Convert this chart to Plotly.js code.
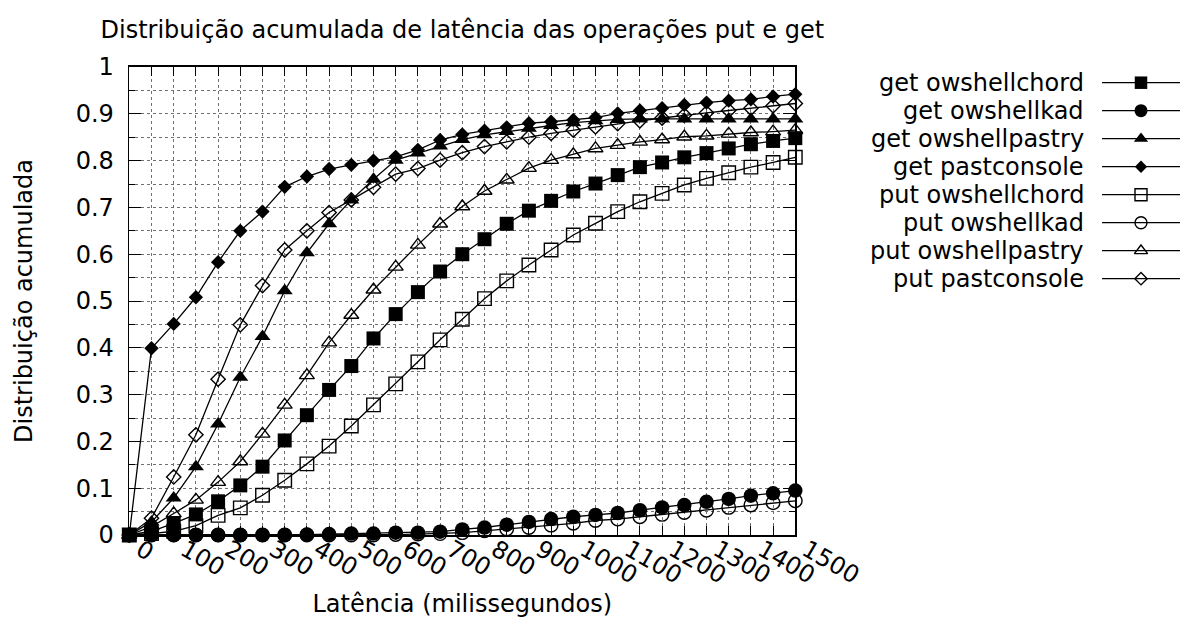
<!DOCTYPE html>
<html>
<head>
<meta charset="utf-8">
<script src="https://cdn.plot.ly/plotly-3.0.1.min.js"></script>
<style>
html,body{margin:0;padding:0;background:#fff;}
#chart{width:1185px;height:630px;}
</style>
</head>
<body>
<div id="chart"></div>
<script>
// ---- data ----
const latency = [0,50,100,150,200,250,300,350,400,450,500,550,600,650,700,750,800,850,900,950,1000,1050,1100,1150,1200,1250,1300,1350,1400,1450,1500];

const getOwshellchord   = [0,0.008,0.025,0.044,0.072,0.106,0.146,0.202,0.256,0.310,0.361,0.420,0.472,0.519,0.563,0.600,0.632,0.665,0.693,0.714,0.734,0.751,0.769,0.786,0.796,0.807,0.816,0.826,0.835,0.842,0.848];
const getOwshellkad     = [0,0,0,0,0,0,0,0,0.001,0.002,0.003,0.003,0.005,0.005,0.007,0.012,0.016,0.022,0.028,0.034,0.039,0.043,0.047,0.053,0.059,0.064,0.071,0.077,0.084,0.089,0.095];
const getOwshellpastry  = [0,0.028,0.079,0.146,0.237,0.337,0.424,0.522,0.603,0.665,0.716,0.760,0.801,0.816,0.831,0.845,0.855,0.862,0.869,0.875,0.881,0.885,0.888,0.889,0.889,0.889,0.889,0.889,0.889,0.889,0.889];
const getPastconsole    = [0,0.399,0.451,0.508,0.583,0.650,0.691,0.744,0.766,0.782,0.791,0.800,0.808,0.823,0.844,0.856,0.864,0.871,0.880,0.883,0.887,0.892,0.901,0.907,0.912,0.919,0.924,0.928,0.931,0.937,0.942];
const putOwshellchord   = [0,0.003,0.008,0.020,0.042,0.058,0.085,0.117,0.152,0.190,0.233,0.278,0.323,0.370,0.417,0.461,0.505,0.543,0.577,0.609,0.641,0.666,0.691,0.712,0.730,0.748,0.762,0.774,0.786,0.796,0.807];
const putOwshellkad     = [0,0,0,0,0,0,0,0,0,0,0,0,0.001,0.002,0.003,0.005,0.009,0.013,0.016,0.021,0.025,0.031,0.034,0.039,0.044,0.048,0.053,0.059,0.064,0.069,0.073];
const putOwshellpastry  = [0,0.018,0.046,0.075,0.113,0.157,0.216,0.278,0.341,0.411,0.470,0.524,0.573,0.620,0.665,0.702,0.735,0.759,0.784,0.801,0.813,0.826,0.833,0.840,0.845,0.851,0.853,0.857,0.860,0.862,0.865];
const putPastconsole    = [0,0.036,0.124,0.214,0.333,0.449,0.533,0.609,0.650,0.689,0.716,0.743,0.771,0.783,0.801,0.817,0.830,0.840,0.850,0.858,0.865,0.872,0.879,0.885,0.891,0.897,0.902,0.907,0.912,0.917,0.922];

const seriesNames = ['get owshellchord','get owshellkad','get owshellpastry','get pastconsole',
                     'put owshellchord','put owshellkad','put owshellpastry','put pastconsole'];

const xTickVals = [0,100,200,300,400,500,600,700,800,900,1000,1100,1200,1300,1400,1500];
const xTickText = ['0','100','200','300','400','500','600','700','800','900','1000','1100','1200','1300','1400','1500'];
const yTickVals = [0,0.1,0.2,0.3,0.4,0.5,0.6,0.7,0.8,0.9,1];
const yTickText = ['0','0.1','0.2','0.3','0.4','0.5','0.6','0.7','0.8','0.9','1'];

const titleText  = 'Distribuição acumulada de latência das operações put e get';
const xTitleText = 'Latência (milissegundos)';
const yTitleText = 'Distribuição acumulada';

// ---- styles ----
const FONT = 'DejaVu Sans, Verdana, sans-serif';
const FS = 24;
const W = 1185, H = 630;
const plotL = 129.3, plotR = 795.3, plotT = 67, plotB = 535;

const seriesValues = [getOwshellchord,getOwshellkad,getOwshellpastry,getPastconsole,
                      putOwshellchord,putOwshellkad,putOwshellpastry,putPastconsole];
const markerStyles = [
  {symbol:'square',           size:14,   lw:0},
  {symbol:'circle',           size:14.5, lw:0},
  {symbol:'triangle-up',      size:14,   lw:0},
  {symbol:'diamond',          size:11,   lw:0},
  {symbol:'square-open',      size:13.5, lw:1.4},
  {symbol:'circle-open',      size:13.5, lw:1.4},
  {symbol:'triangle-up-open', size:13,   lw:1.4},
  {symbol:'diamond-open',     size:11,   lw:1.4}
];

const traces = seriesValues.map((vals, i) => ({
  type: 'scatter',
  mode: 'lines+markers',
  name: seriesNames[i],
  x: latency,
  y: vals,
  xaxis: 'x', yaxis: 'y',
  cliponaxis: false,
  showlegend: false,
  line: {color: '#000', width: 1.3},
  marker: {symbol: markerStyles[i].symbol, size: markerStyles[i].size, color: '#000',
           line: {color: '#000', width: markerStyles[i].lw}}
}));

// custom gnuplot-style key: text on the left, sample on the right
const keyTraces = seriesNames.map((nm, i) => ({
  type: 'scatter',
  mode: 'lines+markers',
  name: nm,
  x: [0, 0.5, 1],
  y: [i, i, i],
  xaxis: 'x2', yaxis: 'y2',
  cliponaxis: false,
  showlegend: false,
  hoverinfo: 'skip',
  line: {color: '#000', width: 1.3},
  marker: {symbol: markerStyles[i].symbol, size: [0, markerStyles[i].size - 1.5, 0],
           opacity: [0, 1, 0], color: '#000',
           line: {color: '#000', width: markerStyles[i].lw}}
}));

const keyAnnotations = seriesNames.map((nm, i) => ({
  xref: 'x2', yref: 'y2', x: 0, y: i,
  xanchor: 'right', yanchor: 'middle', xshift: -16,
  text: nm, showarrow: false,
  font: {family: FONT, size: FS, color: '#000'}
}));

const gridCol = '#707070';
const layout = {
  width: W, height: H,
  margin: {l: 0, r: 0, t: 0, b: 0, pad: 0},
  paper_bgcolor: '#fff',
  plot_bgcolor: '#fff',
  font: {family: FONT, size: FS, color: '#000'},
  title: {
    text: titleText,
    xref: 'container', yref: 'container',
    x: 462.3 / W, xanchor: 'center',
    y: 1 - 30 / H, yanchor: 'middle',
    font: {family: FONT, size: FS, color: '#000'}
  },
  xaxis: {
    domain: [plotL / W, plotR / W],
    anchor: 'y',
    range: [0, 1500],
    tickmode: 'array', tickvals: xTickVals, ticktext: xTickText,
    tickangle: 30,
    ticklabelshift: 11,
    ticklabelstandoff: -10,
    ticks: 'inside', ticklen: 9, tickwidth: 1, tickcolor: '#000',
    showline: true, linecolor: '#000', linewidth: 1.6, mirror: 'ticks',
    showgrid: true, gridcolor: gridCol, gridwidth: 1, griddash: 'dot',
    zeroline: false,
    minor: {tickmode: 'linear', tick0: 0, dtick: 50, ticks: 'inside', ticklen: 9, tickwidth: 1, tickcolor: '#000',
            showgrid: true, gridcolor: gridCol, gridwidth: 1, griddash: 'dot'},
    tickfont: {family: FONT, size: FS, color: '#000'},
    title: {text: xTitleText, standoff: 0, font: {family: FONT, size: FS, color: '#000'}},
    fixedrange: true
  },
  yaxis: {
    domain: [(H - plotB) / H, (H - plotT) / H],
    anchor: 'x',
    range: [0, 1],
    tickmode: 'array', tickvals: yTickVals, ticktext: yTickText,
    ticks: 'inside', ticklen: 12, tickwidth: 1, tickcolor: '#000',
    ticklabelstandoff: 9,
    showline: true, linecolor: '#000', linewidth: 1.6, mirror: 'ticks',
    showgrid: true, gridcolor: gridCol, gridwidth: 1, griddash: 'dot',
    zeroline: false,
    minor: {tickmode: 'linear', tick0: 0, dtick: 0.05, ticks: 'inside', ticklen: 6, tickwidth: 1, tickcolor: '#000',
            showgrid: true, gridcolor: gridCol, gridwidth: 1, griddash: 'dot'},
    tickfont: {family: FONT, size: FS, color: '#000'},
    title: {text: yTitleText, standoff: 36, font: {family: FONT, size: FS, color: '#000'}},
    fixedrange: true
  },
  xaxis2: {
    domain: [1102 / W, 1180 / W], anchor: 'y2', range: [0, 1],
    visible: false, showgrid: false, zeroline: false, fixedrange: true
  },
  yaxis2: {
    domain: [(H - (82.7 + 28 * 7.5)) / H, (H - (82.7 - 28 * 0.5)) / H], anchor: 'x2', range: [7.5, -0.5],
    visible: false, showgrid: false, zeroline: false, fixedrange: true
  },
  annotations: keyAnnotations,
  showlegend: false
};

Plotly.newPlot('chart', traces.concat(keyTraces), layout, {staticPlot: true, displayModeBar: false});
</script>
</body>
</html>
